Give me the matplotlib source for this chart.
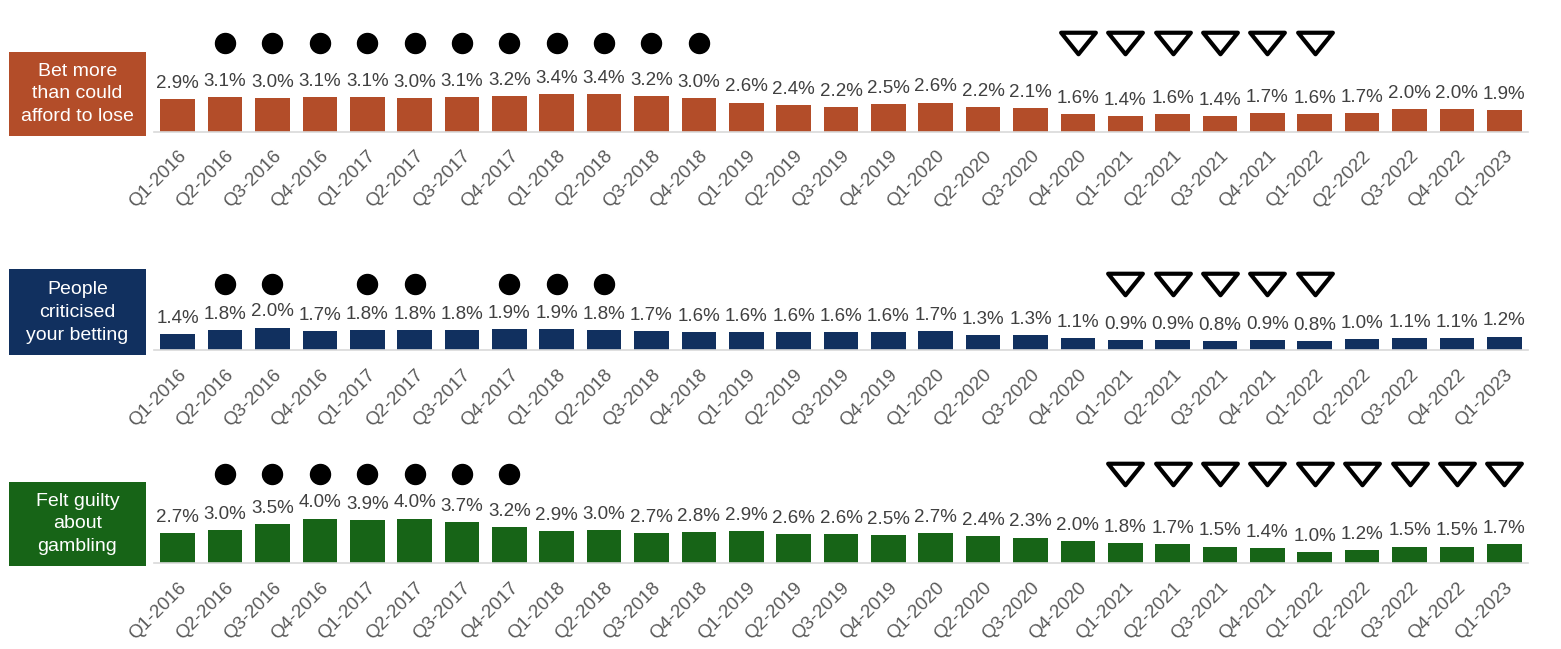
import numpy as np
import matplotlib
matplotlib.use("Agg")
import matplotlib.pyplot as plt
from matplotlib.patches import Rectangle
from matplotlib.path import Path

plt.rcParams['font.family'] = ['Liberation Sans', 'DejaVu Sans']

quarters = ["Q1-2016", "Q2-2016", "Q3-2016", "Q4-2016",
            "Q1-2017", "Q2-2017", "Q3-2017", "Q4-2017",
            "Q1-2018", "Q2-2018", "Q3-2018", "Q4-2018",
            "Q1-2019", "Q2-2019", "Q3-2019", "Q4-2019",
            "Q1-2020", "Q2-2020", "Q3-2020", "Q4-2020",
            "Q1-2021", "Q2-2021", "Q3-2021", "Q4-2021",
            "Q1-2022", "Q2-2022", "Q3-2022", "Q4-2022",
            "Q1-2023"]

bet_more = [2.9, 3.1, 3.0, 3.1, 3.1, 3.0, 3.1, 3.2, 3.4, 3.4, 3.2, 3.0,
            2.6, 2.4, 2.2, 2.5, 2.6, 2.2, 2.1, 1.6, 1.4, 1.6, 1.4, 1.7,
            1.6, 1.7, 2.0, 2.0, 1.9]
criticised = [1.4, 1.8, 2.0, 1.7, 1.8, 1.8, 1.8, 1.9, 1.9, 1.8, 1.7, 1.6,
              1.6, 1.6, 1.6, 1.6, 1.7, 1.3, 1.3, 1.1, 0.9, 0.9, 0.8, 0.9,
              0.8, 1.0, 1.1, 1.1, 1.2]
guilty = [2.7, 3.0, 3.5, 4.0, 3.9, 4.0, 3.7, 3.2, 2.9, 3.0, 2.7, 2.8,
          2.9, 2.6, 2.6, 2.5, 2.7, 2.4, 2.3, 2.0, 1.8, 1.7, 1.5, 1.4,
          1.0, 1.2, 1.5, 1.5, 1.7]

# quarters flagged higher (circle) / lower (triangle) than latest
bet_more_up = ["Q2-2016", "Q3-2016", "Q4-2016", "Q1-2017", "Q2-2017", "Q3-2017",
               "Q4-2017", "Q1-2018", "Q2-2018", "Q3-2018", "Q4-2018"]
bet_more_down = ["Q4-2020", "Q1-2021", "Q2-2021", "Q3-2021", "Q4-2021", "Q1-2022"]
criticised_up = ["Q2-2016", "Q3-2016", "Q1-2017", "Q2-2017", "Q4-2017", "Q1-2018", "Q2-2018"]
criticised_down = ["Q1-2021", "Q2-2021", "Q3-2021", "Q4-2021", "Q1-2022"]
guilty_up = ["Q2-2016", "Q3-2016", "Q4-2016", "Q1-2017", "Q2-2017", "Q3-2017", "Q4-2017"]
guilty_down = ["Q1-2021", "Q2-2021", "Q3-2021", "Q4-2021", "Q1-2022", "Q2-2022",
               "Q3-2022", "Q4-2022", "Q1-2023"]

labels = ["Bet more\nthan could\nafford to lose",
          "People\ncriticised\nyour betting",
          "Felt guilty\nabout\ngambling"]
colors = ["#B34D29", "#11305F", "#176417"]

rows = [
    (bet_more, bet_more_up, bet_more_down, 131.7, 7.9, (51.7, 136)),
    (criticised, criticised_up, criticised_down, 350.0, 5.9, (269.3, 355)),
    (guilty, guilty_up, guilty_down, 563.3, 8.0, (481.7, 566)),
]

W, H = 1561, 649
fig = plt.figure(figsize=(W / 100, H / 100), dpi=100)

tri = Path([(-1, 0.62), (1, 0.62), (0, -0.62), (-1, 0.62)],
           [Path.MOVETO, Path.LINETO, Path.LINETO, Path.CLOSEPOLY])

x = np.arange(len(quarters))
ax_left, ax_right = 154, 1528
ymax = 9.0
px_per_pct = 11.2

for i, (vals, up, down, base, mark_y, (bt, bb)) in enumerate(rows):
    h = ymax * px_per_pct
    ax = fig.add_axes([ax_left / W, (H - base) / H, (ax_right - ax_left) / W, h / H])
    ax.bar(x, vals, width=0.73, color=colors[i])
    for xi, v in zip(x, vals):
        ax.annotate(f"{v:.1f}%", (xi, v), xytext=(0, 8), textcoords="offset points",
                    ha="center", va="baseline", fontsize=13.5, color="#404040")
    up_x = [quarters.index(q) for q in up]
    down_x = [quarters.index(q) for q in down]
    ax.plot(up_x, [mark_y] * len(up_x), "o", color="black", markersize=14.4,
            linestyle="none", clip_on=False)
    ax.plot(down_x, [mark_y] * len(down_x), marker=tri, markersize=25,
            markerfacecolor="white", markeredgecolor="black", markeredgewidth=3,
            linestyle="none", clip_on=False)
    ax.set_xlim(-0.5, len(quarters) - 0.5)
    ax.set_ylim(0, ymax)
    ax.set_xticks(x)
    ax.set_xticklabels(quarters, rotation=45, ha="right", va="top",
                       rotation_mode="anchor", fontsize=13.5, color="#595959")
    ax.tick_params(axis="x", length=0, pad=11.5)
    ax.set_yticks([])
    for s in ["top", "left", "right"]:
        ax.spines[s].set_visible(False)
    ax.spines["bottom"].set_color("#d9d9d9")
    ax.spines["bottom"].set_linewidth(1.2)
    ax.patch.set_visible(False)

    # coloured label box on the left
    fig.patches.append(Rectangle((9.3 / W, (H - bb) / H), (145.7 - 9.3) / W, (bb - bt) / H,
                                 transform=fig.transFigure, facecolor=colors[i],
                                 edgecolor="none"))
    fig.text((9.3 + 145.7) / 2 / W, (H - (bt + bb) / 2) / H, labels[i], ha="center",
             va="center", color="white", fontsize=14, linespacing=1.45)

fig.savefig("out.png", dpi=100)
